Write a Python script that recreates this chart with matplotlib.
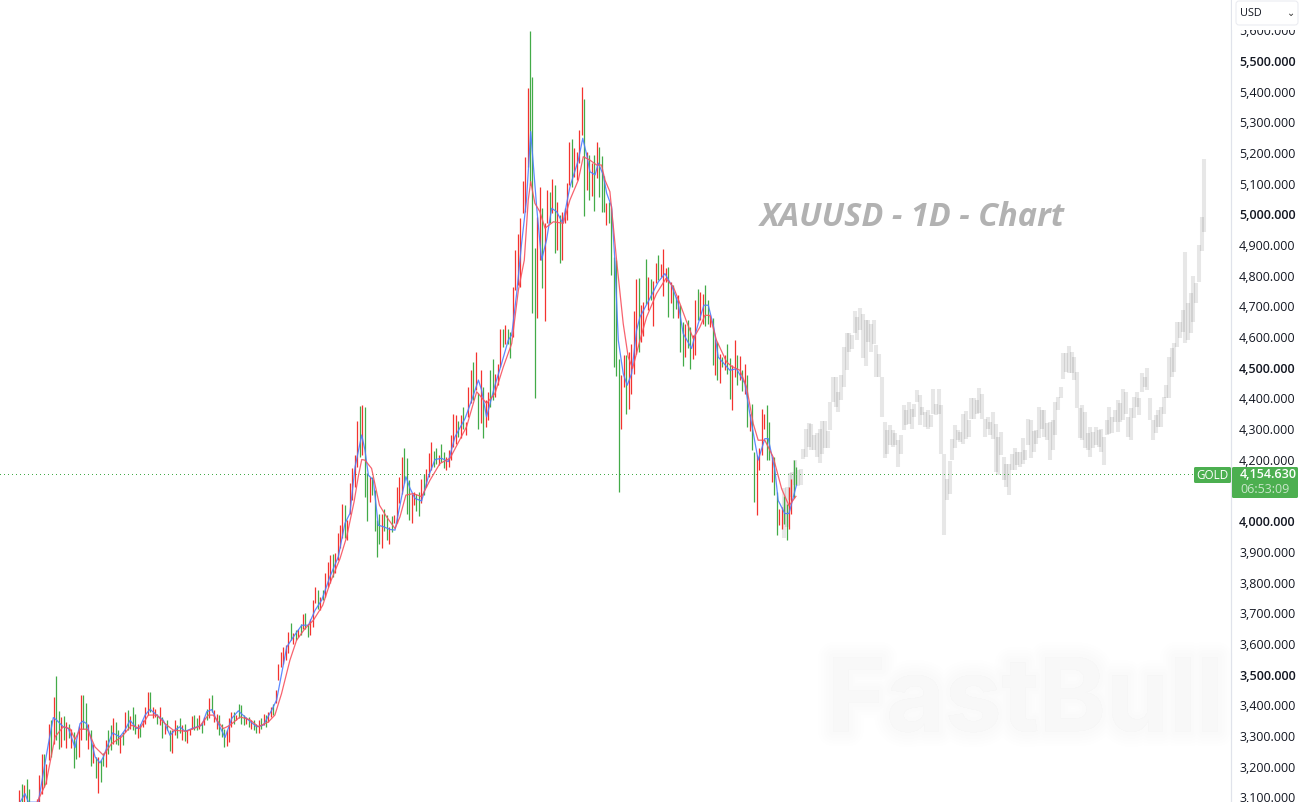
import matplotlib
matplotlib.use("Agg")
import matplotlib.pyplot as plt
import matplotlib.patheffects as pe
from matplotlib.patches import FancyBboxPatch, Rectangle
import numpy as np

W, H = 1302, 802

# Daily gold bars: high and low prices, oldest first
bar_highs = [
3123,3143,3139,3161,3128,3070,3070,3093,3172,3240,
3240,3210,3338,3351,3427,3495,3381,3362,3364,3346,
3340,3324,3313,3286,3332,3433,3433,3409,3340,3321,
3275,3232,3232,3221,3243,3288,3319,3337,3360,3345,
3319,3302,3313,3379,3384,3364,3395,3371,3340,3340,
3353,3393,3442,3444,3395,3389,3373,3395,3362,3335,
3351,3321,3321,3351,3335,3360,3335,3340,3319,3324,
3364,3368,3357,3368,3346,3362,3389,3425,3433,3384,
3373,3368,3340,3324,3319,3357,3379,3379,3368,3404,
3400,3368,3362,3362,3353,3351,3340,3351,3357,3373,
3368,3379,3395,3404,3449,3534,3574,3590,3596,3639,
3669,3634,3645,3650,3666,3697,3702,3666,3680,3743,
3786,3775,3753,3777,3830,3868,3889,3893,3895,3962,
3987,4056,4052,4003,4123,4175,4215,4327,4375,4378,
4373,4156,4145,4145,4103,4003,4025,4025,4041,4020,
3982,4017,4020,4110,4145,4208,4240,4205,4134,4090,
4096,4090,4096,4136,4153,4169,4223,4259,4230,4237,
4215,4253,4226,4210,4232,4281,4349,4346,4327,4346,
4371,4324,4438,4493,4520,4550,4417,4493,4438,4395,
4422,4493,4530,4480,4512,4626,4628,4639,4628,4617,
4762,4884,4936,4987,5109,5186,5411,5598,5449,4889,
4990,5088,5020,4971,5081,5074,5115,5096,5041,4998,
5009,5020,5103,5236,5246,5215,5205,5275,5414,5376,
5202,5194,5167,5194,5236,5220,5190,5125,5036,5041,
5020,4862,4851,4530,4478,4541,4541,4552,4577,4684,
4788,4794,4704,4715,4853,4796,4791,4782,4840,4867,
4838,4887,4824,4827,4780,4769,4731,4737,4704,4650,
4644,4655,4633,4606,4720,4758,4748,4742,4769,4720,
4671,4661,4595,4584,4546,4536,4541,4577,4533,4508,
4590,4541,4538,4492,4512,4476,4351,4383,4226,4215,
4240,4365,4351,4378,4324,4209,4209,4095,4041,4046,
4081,4057,4112,4139,4199,4177,
]
bar_lows = [
3069,3069,3069,3069,3069,3040,3040,3069,3069,3112,
3134,3145,3221,3232,3275,3286,3256,3264,3286,3262,
3292,3262,3196,3226,3232,3286,3324,3286,3256,3202,
3212,3164,3114,3150,3201,3199,3240,3254,3275,3275,
3270,3243,3270,3313,3319,3324,3319,3306,3292,3297,
3330,3340,3368,3379,3357,3362,3340,3335,3292,3306,
3319,3251,3243,3302,3292,3308,3286,3284,3277,3302,
3324,3319,3319,3324,3308,3335,3351,3357,3379,3346,
3324,3302,3297,3264,3267,3281,3330,3340,3351,3357,
3340,3335,3340,3330,3324,3319,3308,3308,3324,3335,
3330,3346,3362,3368,3406,3482,3525,3536,3547,3569,
3612,3601,3612,3623,3628,3650,3650,3623,3628,3656,
3732,3715,3710,3743,3753,3786,3797,3819,3830,3873,
3911,3944,3944,3940,4025,4069,4112,4177,4210,4215,
4080,4001,4063,4085,3969,3884,3927,3913,3969,3938,
3927,3965,3993,3993,4058,4090,4123,4025,4003,3995,
4052,4034,4017,4058,4085,4112,4143,4167,4177,4188,
4183,4194,4172,4167,4177,4199,4243,4253,4275,4270,
4299,4281,4340,4384,4395,4427,4302,4319,4272,4308,
4330,4373,4395,4405,4445,4503,4568,4579,4579,4533,
4601,4753,4770,4764,5003,5009,5156,5096,4679,4400,
4663,4851,4759,4653,4971,4971,5003,4875,4884,4840,
4851,4971,4982,5096,5090,5121,5112,5167,5259,4996,
5080,5047,5061,5012,5118,5058,5009,5009,4965,4971,
4804,4503,4474,4095,4300,4438,4348,4365,4416,4481,
4546,4552,4584,4603,4709,4688,4720,4637,4775,4786,
4796,4734,4780,4666,4712,4663,4693,4663,4552,4505,
4536,4563,4497,4530,4541,4655,4655,4644,4636,4644,
4633,4508,4476,4459,4451,4503,4492,4481,4397,4362,
4470,4443,4459,4425,4414,4307,4294,4231,4063,4019,
4166,4215,4302,4199,4199,4128,4084,3954,3987,3976,
3992,3938,3976,4025,4074,4117,
]
# r = rising bar, g = falling bar
bar_sides = (
"rgrgggrrrr" "grrgrggrgr" "grggrrggrg" "rgrggrggrg" "grgrgrggrg"
"rrrgrrgrgr" "ggrrggrgrr" "rggrgrgrgr" "rgggrrrgrg" "ggrgrggrgr"
"grrgrrrrrr" "grgrgrggrr" "rgrgrrrgrr" "rrgrrrrrgr" "ggrggggrgg"
"rgrrrrgggr" "rggrgrrrgg" "rggrrrrrgr" "grrrgrgrgr" "rggrrrgrgg"
"rrrrrrrggg" "rrgrrgrgrg" "rrrrgrrrrg" "rgrgrgggrg" "ggggrrgrrr"
"rgrrgrgrrg" "rrrgrggrgg" "rggrrgrrgg" "rgrgrgrggr" "rgrgrgrggr"
"rrrggrggrr" "ggrrgg"
)

# Fast moving average: bar position, price
fast_pos = [0.3,2.3,3.7,7.7,9.7,11.8,13.8,15.2,17.8,19.9,22.6,24.6,25.7,27.3,28.7,30.7,32.7,34.1,36.1,37.8,
40.8,42.8,44.9,47.6,48.9,51,53,55.7,58.4,61.1,63.1,65.1,67.2,69.9,74,76,78,80,83.4,86.1,88.8,92.1,96.2,98.9,
102.3,104.3,108.4,111.1,114.5,117.2,119.9,122.6,125.9,129.3,132,134,136.1,138.8,140.1,141.5,143.5,145.5,
147.6,150.3,152.3,155,156.7,158.4,160.4,163.1,165.8,168.5,171.2,173.9,176.6,180.7,183.4,186.1,187.4,189.4,
192.8,195.5,198.2,199.6,201.6,203.6,205.6,207.3,209.7,211.7,213.7,215.8,217.8,220.3,223.2,226.6,228.4,230,
231.3,233.4,234.7,236.7,238.1,240.1,241.4,242.8,244.8,246.4,248.2,250.2,251.6,255.6,259,261.7,264.4,267.1,
269.1,272.5,275.2,277.5,279.3,281.6,283.3,288,290.7,294.1,296.1,299.5,302.2,303.6,306.3,307.6,310.3,312,315]
fast_val = [3084,3112,3084,3084,3177,3275,3360,3351,3330,3324,3262,3340,3348,3340,3302,3232,3212,3232,3275,3310,
3297,3319,3351,3324,3330,3368,3387,3368,3351,3302,3319,3330,3315,3324,3335,3379,3386,3351,3295,3357,3382,3357,3330,3335,
3384,3417,3590,3623,3661,3661,3710,3743,3819,3884,3993,4025,4177,4281,4232,4150,4134,3987,
3982,3973,3971,4080,4145,4107,4074,4066,4145,4201,4205,4194,4275,4335,4395,4460,4427,4340,
4443,4514,4590,4607,4742,4905,5047,5270,5025,4851,4916,5020,5009,4971,5090,5177,5248,5194,
5139,5129,5167,5129,5069,5025,4851,4590,4481,4443,4481,4622,4666,4726,4780,4807,4769,4709,
4612,4563,4644,4704,4704,4628,4535,4492,4497,4449,4351,4199,4269,4269,4166,4068,4025,4025,4117]

# Slow moving average: bar position, price
slow_pos = [7,10.8,14.5,17.8,20.5,22.6,24.6,27.6,30.7,34.1,37.4,41.5,45.5,48.9,52.3,55.7,59.1,62.4,67.8,73.2,
76.6,78.6,82.7,85.4,89.5,93.5,96.9,101,103.6,106.3,109.7,112.4,115.8,119.2,123,125.9,130,132.7,135.7,137.4,
138.8,140.1,142.8,146,148.9,152.3,154.3,156.7,159.7,163.1,166.5,170.5,174.6,181.3,185.4,189.4,192.8,196.2,
199.6,202.3,204.7,206.3,207.3,209,211,213.1,216.5,220.5,223.2,226.6,228.6,231.3,234,236,237.4,239.4,240.8,
242.1,244.8,246.8,248.6,251.6,254.3,258.3,262.1,265.1,267.8,270.5,273.2,275.9,277.9,279.9,282.6,286.7,288.7,
292.1,294.8,297.5,299.5,302.2,305.6,309,312,314.8]
slow_val = [3080,3145,3297,3330,3324,3289,3322,3322,3264,3237,3275,3297,3335,3324,3368,3368,3340,3319,3315,3332,
3368,3368,3324,3335,3362,3353,3330,3346,3368,3438,3547,3612,3650,3677,3726,3797,3878,3949,4063,4145,
4201,4199,4172,4052,4014,3976,4014,4085,4090,4080,4134,4188,4205,4308,4422,4384,4416,4503,
4579,4753,4851,5047,5107,5036,5009,4955,4976,4971,5047,5112,5188,5177,5161,5161,5112,5074,4960,
4851,4644,4536,4498,4590,4666,4742,4791,4764,4709,4650,4595,4633,4671,4671,4590,4519,4505,
4492,4438,4318,4264,4264,4209,4106,4050,4081]

# Faded projection bars: high and low prices
proj_highs = [
4107,4110,4158,4161,4199,4167,4171,4234,4299,4321,4318,4280,4286,4299,4327,4327,4294,4389,4470,4470,
4421,4476,4568,4612,4612,4606,4686,4664,4696,4675,4655,4657,4644,4655,4574,4546,4470,4324,4296,4313,
4296,4286,4264,4280,4378,4362,4387,4367,4383,4427,4411,4373,4356,4364,4345,4432,4383,4430,4378,4220,
4139,4196,4269,4313,4296,4291,4351,4359,4329,4400,4403,4394,4434,4416,4334,4340,4324,4356,4318,4275,
4291,4210,4188,4188,4219,4237,4226,4226,4270,4232,4332,4330,4295,4297,4373,4362,4362,4319,4324,4330,
4389,4406,4436,4547,4547,4572,4552,4536,4487,4368,4378,4357,4286,4308,4291,4308,4297,4299,4275,4330,
4373,4340,4362,4395,4384,4430,4422,4340,4368,4406,4420,4400,4482,4471,4498,4400,4330,4346,4362,4373,
4406,4444,4536,4563,4580,4650,4650,4688,4878,4710,4743,4799,4775,4900,4990,5180,
]
proj_lows = [
3944,3982,4069,4080,4118,4115,4117,4204,4210,4242,4233,4231,4210,4191,4220,4237,4237,4296,4389,4373,
4356,4394,4438,4494,4552,4560,4612,4590,4623,4533,4505,4585,4552,4577,4470,4470,4340,4207,4220,4248,
4242,4248,4177,4220,4296,4313,4318,4302,4340,4389,4313,4345,4307,4299,4307,4351,4345,4349,4220,3954,
4070,4090,4199,4237,4264,4258,4253,4269,4275,4334,4334,4351,4353,4334,4275,4302,4280,4269,4161,4150,
4215,4134,4112,4085,4166,4166,4183,4177,4188,4199,4248,4205,4226,4253,4270,4302,4275,4264,4199,4232,
4281,4362,4400,4465,4487,4482,4484,4460,4368,4270,4264,4237,4232,4210,4237,4248,4243,4226,4183,4281,
4284,4286,4324,4291,4324,4330,4351,4275,4264,4335,4373,4346,4422,4438,4427,4330,4266,4286,4308,4306,
4349,4400,4400,4471,4487,4569,4596,4618,4580,4590,4612,4650,4712,4780,4880,4944,
]

tick_prices = [5600,5500,5400,5300,5200,5100,5000,4900,4800,4700,4600,4500,4400,4300,4200,
               4000,3900,3800,3700,3600,3500,3400,3300,3200,3100]
strong_ticks = {5500, 5000, 4500, 4000, 3500}
last_price = 4154.63

RED, GREEN = "#f4332f", "#43ab48"
FAST, SLOW = "#4c7dff", "#f7525f"
px = 72 / 100  # points per pixel at this dpi

fig = plt.figure(figsize=(W / 100, H / 100), dpi=100, facecolor="white")
ax = fig.add_axes([0, 0, 1231 / W, 1])

# Horizontal scale: bar 0 sits just inside the left edge, bars are about 2.47 px apart
step = 2.467
ax.set_xlim(-19.3 / step, (1231 - 19.3) / step)
ax.set_ylim(5500 - 741 * 3.2595, 5500 + 61 * 3.2595)

for sp in ("top", "left", "bottom"):
    ax.spines[sp].set_visible(False)
ax.spines["right"].set_color("#e0e3eb")
ax.spines["right"].set_linewidth(1.2 * px)
ax.set_xticks([])
ax.yaxis.tick_right()
ax.set_yticks(tick_prices)
ax.set_yticklabels([f"{p:,}.000" for p in tick_prices], family="Open Sans", fontsize=9.0, color="#131722")
for lab, p in zip(ax.get_yticklabels(), tick_prices):
    if p in strong_ticks:
        lab.set_fontweight("semibold")
ax.tick_params(axis="y", length=0, pad=8 * px)

# Watermark with a soft drop shadow
shadow = [pe.withStroke(linewidth=w, foreground="#000000", alpha=0.003) for w in (22, 18, 14, 10, 6)]
ax.text(0.6715, 0.1215, "FastBull", transform=ax.transAxes, family="Inter", fontweight="bold",
        fontsize=73, color="#f8f8f8", ha="left", va="center", zorder=0.5, path_effects=shadow + [pe.Normal()])

# Projection shown as translucent wide bars that darken where they overlap
proj_pos = np.linspace((784.3 - 19.3) / step, (1204.3 - 19.3) / step, len(proj_highs))
ax.vlines(proj_pos, proj_lows, proj_highs, colors="black", alpha=0.095, linewidth=4.1 * px,
          capstyle="butt", zorder=1)

# Last price line
ax.axhline(last_price, color=GREEN, linewidth=1.1 * px, linestyle=(0, (0.9, 2.8)), antialiased=False, zorder=1.5)

# Price bars
pos = np.arange(len(bar_highs))
cols = [RED if s == "r" else GREEN for s in bar_sides]
ax.vlines(pos, bar_lows, bar_highs, colors=cols, linewidth=1.25 * px, capstyle="butt", zorder=2)

# Moving averages
ax.plot(fast_pos, fast_val, color=FAST, linewidth=1.25 * px, alpha=0.9, zorder=3)
ax.plot(slow_pos, slow_val, color=SLOW, linewidth=1.25 * px, alpha=0.9, zorder=4)

# Chart title
ax.text(760 / 1231, 1 - 218 / H, "XAUUSD - 1D - Chart", transform=ax.transAxes, family="Open Sans",
        fontweight="bold", fontstyle="italic", fontsize=23.4, color="#b2b2b2", ha="left", va="center", zorder=5)


def to_fig(x, y):
    return x / W, 1 - y / H


# Currency selector hides the top of the first tick label
fig.patches.append(Rectangle(to_fig(1232, 29.5), 70 / W, 29.5 / H, transform=fig.transFigure,
                             facecolor="white", edgecolor="none", zorder=10))
box = FancyBboxPatch((1236, H - 25), 62, 24, boxstyle="round,pad=0,rounding_size=3",
                     transform=None, facecolor="white", edgecolor="#e9ebf0", linewidth=1 * px, zorder=11)
fig.patches.append(box)
fig.text(*to_fig(1240, 13), "USD", family="Open Sans", fontsize=7.8, color="#131722", va="center", ha="left", zorder=12)
fig.text(*to_fig(1291, 13), "⌄", family="DejaVu Sans", fontsize=7, color="#333333", va="center", ha="center", zorder=12)

# Symbol tag and last price tag on the scale
fig.patches.append(FancyBboxPatch((1194, H - 483), 37, 16, boxstyle="round,pad=0,rounding_size=1.5", transform=None,
                                  facecolor="#4caf50", edgecolor="none", zorder=10))
fig.patches.append(FancyBboxPatch((1232, H - 498), 66, 31, boxstyle="round,pad=0,rounding_size=1.5", transform=None,
                                  facecolor="#4caf50", edgecolor="none", zorder=10))
fig.text(*to_fig(1212.5, 475.5), "GOLD", family="Open Sans", fontsize=8.4, color="white", ha="center", va="center", zorder=12)
fig.text(*to_fig(1240, 475), f"{last_price:,.2f}0", family="Open Sans", fontweight="semibold",
         fontsize=9.0, color="white", ha="left", va="center", zorder=12)
fig.text(*to_fig(1240, 489), "06:53:09", family="Open Sans", fontsize=9.0, color="#c8e6c9", ha="left", va="center", zorder=12)

fig.savefig("out.png", dpi=100, facecolor="white")
